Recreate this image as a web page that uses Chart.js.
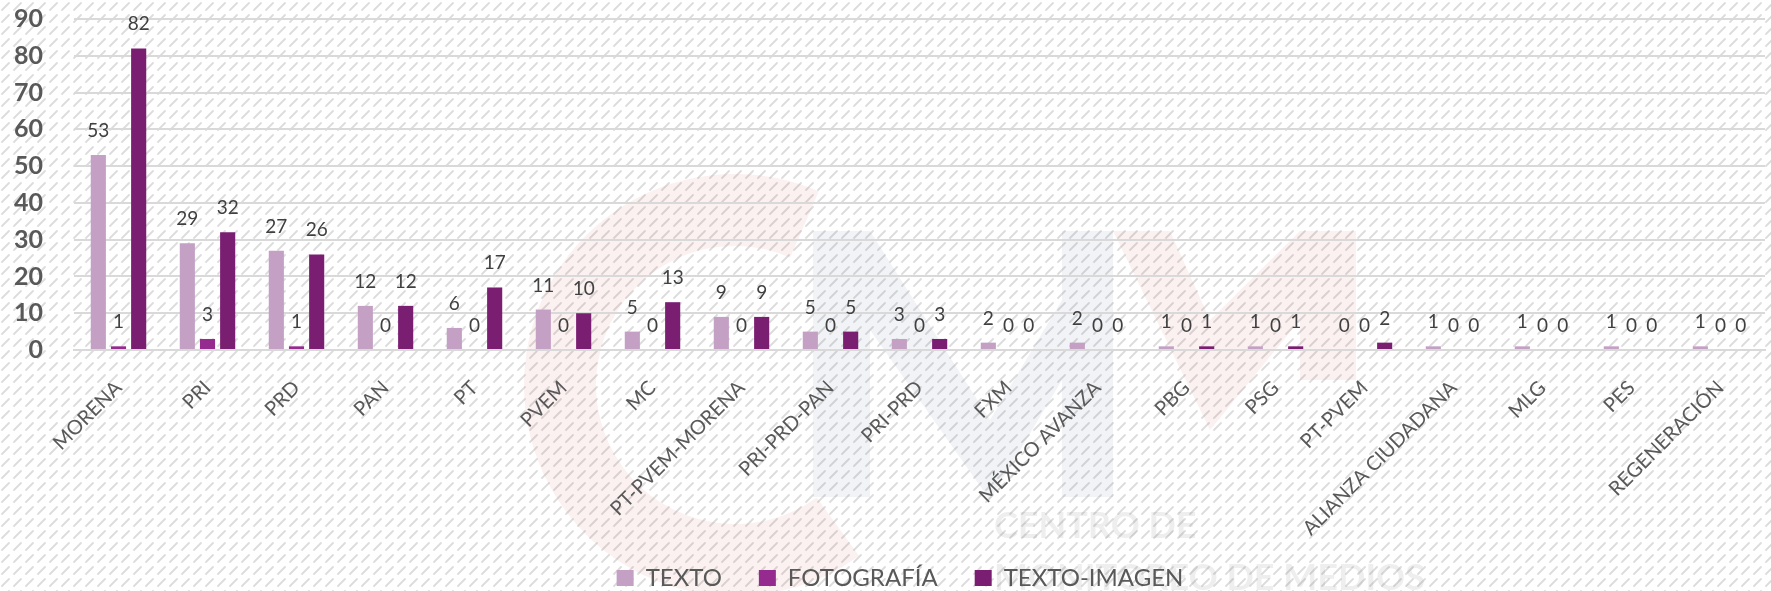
<!DOCTYPE html>
<html>
<head>
<meta charset="utf-8">
<script src="https://cdn.jsdelivr.net/npm/chart.js@4/dist/chart.umd.min.js"></script>
<style>
  html, body { margin: 0; padding: 0; background: #fff; }
  #wrap { width: 1771px; height: 591px; }
</style>
</head>
<body>
<div id="wrap"><canvas id="medios"></canvas></div>
<script>
// data
var partidos = ['MORENA', 'PRI', 'PRD', 'PAN', 'PT', 'PVEM', 'MC', 'PT-PVEM-MORENA', 'PRI-PRD-PAN',
  'PRI-PRD', 'FXM', 'MÉXICO AVANZA', 'PBG', 'PSG', 'PT-PVEM', 'ALIANZA CIUDADANA', 'MLG', 'PES', 'REGENERACIÓN'];
var texto       = [53, 29, 27, 12, 6, 11, 5, 9, 5, 3, 2, 2, 1, 1, 0, 1, 1, 1, 1];
var fotografia  = [1, 3, 1, 0, 0, 0, 0, 0, 0, 0, 0, 0, 0, 0, 0, 0, 0, 0, 0];
var textoImagen = [82, 32, 26, 12, 17, 10, 13, 9, 5, 3, 0, 0, 1, 1, 2, 0, 0, 0, 0];
var yTicks = [0, 10, 20, 30, 40, 50, 60, 70, 80, 90];

var FONT = 'Lato, "Open Sans", sans-serif';

// hatched background + faint watermark
function hatch() {
  var c = document.createElement('canvas');
  c.width = 12; c.height = 12;
  var g = c.getContext('2d');
  g.strokeStyle = '#dcdcdc';
  g.lineWidth = 1.8;
  g.lineCap = 'round';
  g.beginPath();
  g.moveTo(2, 10);
  g.lineTo(9, 3);
  g.stroke();
  return c;
}

var fondo = {
  id: 'fondo',
  beforeDraw: function(chart) {
    var ctx = chart.ctx;
    ctx.save();
    ctx.fillStyle = '#ffffff';
    ctx.fillRect(0, 0, chart.width, chart.height);
    ctx.fillStyle = ctx.createPattern(hatch(), 'repeat');
    ctx.fillRect(0, 0, chart.width, chart.height);
    // watermark C
    ctx.globalAlpha = 0.07;
    ctx.strokeStyle = '#c83232';
    ctx.lineWidth = 72;
    ctx.beginPath();
    ctx.arc(735, 385, 175, Math.PI * 0.3, Math.PI * 1.63);
    ctx.stroke();
    // watermark M
    ctx.fillStyle = '#3f4f86';
    ctx.beginPath();
    ctx.moveTo(813, 231); ctx.lineTo(870, 231); ctx.lineTo(990, 420);
    ctx.lineTo(1062, 300); ctx.lineTo(1062, 231); ctx.lineTo(1113, 231);
    ctx.lineTo(1113, 497); ctx.lineTo(1062, 497); ctx.lineTo(1062, 380);
    ctx.lineTo(990, 500); ctx.lineTo(870, 330); ctx.lineTo(870, 497);
    ctx.lineTo(813, 497); ctx.closePath();
    ctx.fill();
    ctx.fillStyle = '#c83232';
    ctx.beginPath();
    ctx.moveTo(1113, 231); ctx.lineTo(1170, 231); ctx.lineTo(1210, 320);
    ctx.lineTo(1300, 231); ctx.lineTo(1356, 231); ctx.lineTo(1356, 380);
    ctx.lineTo(1300, 380); ctx.lineTo(1300, 320); ctx.lineTo(1210, 430);
    ctx.closePath();
    ctx.fill();
    ctx.globalAlpha = 0.09;
    ctx.fillStyle = '#404040';
    ctx.font = 'bold 36px ' + FONT;
    ctx.fillText('CENTRO DE', 994, 526);
    ctx.fillText('MONITOREO DE MEDIOS', 994, 578);
    ctx.restore();
  }
};

var etiquetas = {
  id: 'etiquetas',
  afterDatasetsDraw: function(chart) {
    var ctx = chart.ctx;
    ctx.save();
    ctx.font = '19px ' + FONT;
    ctx.fillStyle = '#404040';
    ctx.textAlign = 'center';
    ctx.textBaseline = 'alphabetic';
    chart.data.datasets.forEach(function(ds, i) {
      chart.getDatasetMeta(i).data.forEach(function(bar, j) {
        ctx.fillText(String(ds.data[j]), bar.x, bar.y - 18);
      });
    });
    ctx.restore();
  }
};

// legend takes no room in the layout; it sits over the bottom of the label band
var leyendaPos = {
  id: 'leyendaPos',
  beforeLayout: function(chart) {
    var lg = chart.legend;
    if (lg && !lg._plano) {
      var fit = lg.fit;
      lg.fit = function() { fit.call(this); this.height = 1; };
      lg._plano = true;
    }
  },
  afterLayout: function(chart) {
    var lg = chart.legend;
    var dx = 900 - (lg.left + lg.right) / 2;
    lg.left += dx; lg.right += dx;
    lg.top = 529;
    lg.bottom = 591;
    lg.height = 62;
  }
};

var ctx = document.getElementById('medios');
var chart = new Chart(ctx, {
  type: 'bar',
  data: {
    labels: partidos,
    datasets: [
      { label: 'TEXTO', data: texto, backgroundColor: '#c4a0c4' },
      { label: 'FOTOGRAFÍA', data: fotografia, backgroundColor: '#952a8f' },
      { label: 'TEXTO-IMAGEN', data: textoImagen, backgroundColor: '#7a1e72' }
    ]
  },
  options: {
    responsive: true,
    maintainAspectRatio: false,
    animation: false,
    layout: { padding: { top: 19, right: 6, bottom: 0, left: 0 } },
    datasets: { bar: { categoryPercentage: 0.68, barPercentage: 0.75 } },
    plugins: {
      legend: {
        position: 'bottom',
        labels: {
          font: { family: FONT, size: 24 },
          color: '#595959',
          boxWidth: 17,
          boxHeight: 16,
          padding: 37
        }
      },
      tooltip: { enabled: false }
    },
    scales: {
      x: {
        grid: { display: false },
        border: { color: '#d9d9d9', width: 2 },
        ticks: {
          autoSkip: false,
          minRotation: 45,
          maxRotation: 45,
          color: '#595959',
          font: { family: FONT, size: 20 },
          padding: 18
        },
        afterFit: function(scale) { scale.height = 240; }
      },
      y: {
        min: 0,
        max: 90,
        afterBuildTicks: function(scale) {
          scale.ticks = yTicks.map(function(v) { return { value: v }; });
        },
        grid: { color: '#d9d9d9', lineWidth: 2, drawTicks: false },
        border: { display: false },
        ticks: {
          color: '#595959',
          font: { family: FONT, size: 25, weight: 'bold' },
          padding: 31
        },
        afterFit: function(scale) {
          scale.width = 74;
          scale.paddingTop = 15;
          scale.paddingBottom = 15;
        }
      }
    }
  },
  plugins: [fondo, etiquetas, leyendaPos]
});
</script>
</body>
</html>
